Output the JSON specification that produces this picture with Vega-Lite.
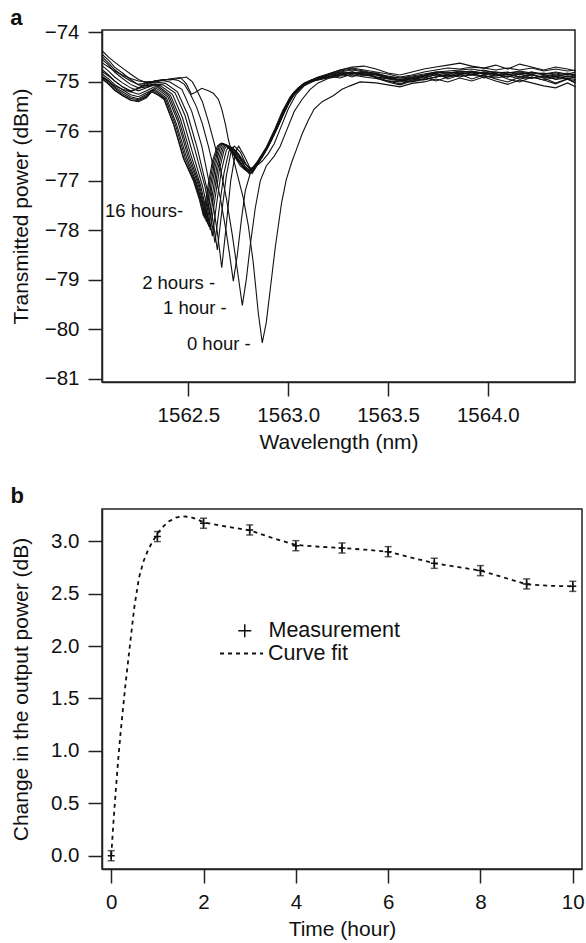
{
  "$schema": "https://vega.github.io/schema/vega-lite/v6.json",
  "background": "white",
  "padding": {"left": 9, "top": 6, "right": 0, "bottom": 2},
  "spacing": 30,
  "resolve": {"scale": {"shape": "independent", "strokeDash": "independent"}, "legend": {"shape": "independent", "strokeDash": "independent"}},
  "config": {
    "font": "Liberation Sans",
    "view": {"stroke": "#222", "strokeWidth": 1.5},
    "axis": {"grid": false, "domainColor": "#222", "domainWidth": 1.5, "tickColor": "#222", "tickWidth": 1.5, "tickSize": 14, "labelFontSize": 20.5, "labelColor": "#111", "labelPadding": 9, "labelFlush": false, "labelOverlap": false, "labelBound": false, "titleFontSize": 21, "titleFontWeight": "normal", "titleColor": "#111"},
    "title": {"fontSize": 22, "fontWeight": "bold", "anchor": "start", "frame": "bounds", "color": "#111"}
  },
  "datasets": {
    "spec": [
      {"h":0,"w":1562.07,"p":-74.62},{"h":0,"w":1562.1,"p":-74.7},{"h":0,"w":1562.13,"p":-74.78},{"h":0,"w":1562.17,"p":-74.86},{"h":0,"w":1562.21,"p":-74.93},{"h":0,"w":1562.25,"p":-74.98},{"h":0,"w":1562.29,"p":-75.0},{"h":0,"w":1562.33,"p":-74.99},{"h":0,"w":1562.37,"p":-74.97},{"h":0,"w":1562.42,"p":-74.93},{"h":0,"w":1562.46,"p":-74.91},{"h":0,"w":1562.49,"p":-75.04},{"h":0,"w":1562.515,"p":-75.25},{"h":0,"w":1562.54,"p":-75.2},{"h":0,"w":1562.567,"p":-75.13},{"h":0,"w":1562.6,"p":-75.18},{"h":0,"w":1562.625,"p":-75.23},{"h":0,"w":1562.65,"p":-75.35},{"h":0,"w":1562.667,"p":-75.55},{"h":0,"w":1562.685,"p":-75.85},{"h":0,"w":1562.7,"p":-76.16},{"h":0,"w":1562.725,"p":-76.55},{"h":0,"w":1562.75,"p":-76.95},{"h":0,"w":1562.775,"p":-77.35},{"h":0,"w":1562.8,"p":-77.9},{"h":0,"w":1562.825,"p":-78.66},{"h":0,"w":1562.85,"p":-79.67},{"h":0,"w":1562.87,"p":-80.28},{"h":0,"w":1562.89,"p":-79.87},{"h":0,"w":1562.91,"p":-79.2},{"h":0,"w":1562.935,"p":-78.35},{"h":0,"w":1562.967,"p":-77.44},{"h":0,"w":1562.99,"p":-76.98},{"h":0,"w":1563.017,"p":-76.63},{"h":0,"w":1563.04,"p":-76.38},{"h":0,"w":1563.07,"p":-76.05},{"h":0,"w":1563.1,"p":-75.78},{"h":0,"w":1563.13,"p":-75.55},{"h":0,"w":1563.17,"p":-75.4},{"h":0,"w":1563.225,"p":-75.28},{"h":0,"w":1563.27,"p":-75.15},{"h":0,"w":1563.31,"p":-75.08},{"h":0,"w":1563.36,"p":-75.0},{"h":0,"w":1563.44,"p":-75.02},{"h":0,"w":1563.5,"p":-75.06},{"h":0,"w":1563.56,"p":-75.1},{"h":0,"w":1563.62,"p":-75.03},{"h":0,"w":1563.68,"p":-75.0},{"h":0,"w":1563.74,"p":-74.94},{"h":0,"w":1563.8,"p":-75.0},{"h":0,"w":1563.86,"p":-74.92},{"h":0,"w":1563.92,"p":-74.98},{"h":0,"w":1563.98,"p":-74.9},{"h":0,"w":1564.04,"p":-74.98},{"h":0,"w":1564.1,"p":-75.05},{"h":0,"w":1564.16,"p":-74.96},{"h":0,"w":1564.22,"p":-75.02},{"h":0,"w":1564.28,"p":-75.08},{"h":0,"w":1564.34,"p":-75.12},{"h":0,"w":1564.4,"p":-75.02},{"h":0,"w":1564.44,"p":-75.1},

      {"h":1,"w":1562.07,"p":-74.9},{"h":1,"w":1562.1,"p":-74.98},{"h":1,"w":1562.13,"p":-75.08},{"h":1,"w":1562.17,"p":-75.15},{"h":1,"w":1562.21,"p":-75.2},{"h":1,"w":1562.25,"p":-75.12},{"h":1,"w":1562.29,"p":-75.03},{"h":1,"w":1562.33,"p":-74.98},{"h":1,"w":1562.37,"p":-74.95},{"h":1,"w":1562.41,"p":-74.96},{"h":1,"w":1562.45,"p":-74.93},{"h":1,"w":1562.49,"p":-74.9},{"h":1,"w":1562.52,"p":-75.0},{"h":1,"w":1562.54,"p":-75.15},{"h":1,"w":1562.57,"p":-75.4},{"h":1,"w":1562.6,"p":-75.8},{"h":1,"w":1562.63,"p":-76.25},{"h":1,"w":1562.66,"p":-76.75},{"h":1,"w":1562.69,"p":-77.35},{"h":1,"w":1562.72,"p":-78.1},{"h":1,"w":1562.745,"p":-78.8},{"h":1,"w":1562.77,"p":-79.52},{"h":1,"w":1562.79,"p":-79.0},{"h":1,"w":1562.81,"p":-78.3},{"h":1,"w":1562.835,"p":-77.55},{"h":1,"w":1562.86,"p":-77.0},{"h":1,"w":1562.89,"p":-76.7},{"h":1,"w":1562.93,"p":-76.5},{"h":1,"w":1562.96,"p":-76.3},{"h":1,"w":1562.99,"p":-76.0},{"h":1,"w":1563.03,"p":-75.6},{"h":1,"w":1563.07,"p":-75.35},{"h":1,"w":1563.11,"p":-75.15},{"h":1,"w":1563.15,"p":-75.02},{"h":1,"w":1563.2,"p":-74.93},{"h":1,"w":1563.26,"p":-74.88},{"h":1,"w":1563.32,"p":-74.86},{"h":1,"w":1563.38,"p":-74.9},{"h":1,"w":1563.44,"p":-74.93},{"h":1,"w":1563.5,"p":-74.98},{"h":1,"w":1563.56,"p":-75.0},{"h":1,"w":1563.62,"p":-74.93},{"h":1,"w":1563.68,"p":-74.95},{"h":1,"w":1563.74,"p":-74.9},{"h":1,"w":1563.8,"p":-74.85},{"h":1,"w":1563.86,"p":-74.88},{"h":1,"w":1563.92,"p":-74.86},{"h":1,"w":1563.98,"p":-74.9},{"h":1,"w":1564.04,"p":-74.88},{"h":1,"w":1564.1,"p":-74.84},{"h":1,"w":1564.16,"p":-74.9},{"h":1,"w":1564.22,"p":-74.93},{"h":1,"w":1564.28,"p":-74.87},{"h":1,"w":1564.34,"p":-74.95},{"h":1,"w":1564.4,"p":-74.92},{"h":1,"w":1564.44,"p":-74.95},

      {"h":2,"w":1562.07,"p":-74.8},{"h":2,"w":1562.1,"p":-74.88},{"h":2,"w":1562.13,"p":-74.98},{"h":2,"w":1562.17,"p":-75.1},{"h":2,"w":1562.21,"p":-75.18},{"h":2,"w":1562.25,"p":-75.14},{"h":2,"w":1562.29,"p":-75.06},{"h":2,"w":1562.33,"p":-75.0},{"h":2,"w":1562.37,"p":-74.96},{"h":2,"w":1562.41,"p":-74.94},{"h":2,"w":1562.45,"p":-74.97},{"h":2,"w":1562.48,"p":-75.05},{"h":2,"w":1562.51,"p":-75.25},{"h":2,"w":1562.54,"p":-75.5},{"h":2,"w":1562.57,"p":-75.85},{"h":2,"w":1562.6,"p":-76.3},{"h":2,"w":1562.63,"p":-76.8},{"h":2,"w":1562.66,"p":-77.35},{"h":2,"w":1562.69,"p":-78.05},{"h":2,"w":1562.71,"p":-78.6},{"h":2,"w":1562.725,"p":-79.03},{"h":2,"w":1562.745,"p":-78.5},{"h":2,"w":1562.765,"p":-77.8},{"h":2,"w":1562.785,"p":-77.2},{"h":2,"w":1562.81,"p":-76.85},{"h":2,"w":1562.84,"p":-76.7},{"h":2,"w":1562.87,"p":-76.6},{"h":2,"w":1562.9,"p":-76.45},{"h":2,"w":1562.93,"p":-76.25},{"h":2,"w":1562.96,"p":-75.95},{"h":2,"w":1563.0,"p":-75.55},{"h":2,"w":1563.04,"p":-75.25},{"h":2,"w":1563.08,"p":-75.08},{"h":2,"w":1563.13,"p":-74.98},{"h":2,"w":1563.2,"p":-74.9},{"h":2,"w":1563.26,"p":-74.85},{"h":2,"w":1563.32,"p":-74.8},{"h":2,"w":1563.38,"p":-74.84},{"h":2,"w":1563.44,"p":-74.9},{"h":2,"w":1563.5,"p":-74.93},{"h":2,"w":1563.56,"p":-74.96},{"h":2,"w":1563.62,"p":-74.99},{"h":2,"w":1563.68,"p":-74.93},{"h":2,"w":1563.74,"p":-74.85},{"h":2,"w":1563.8,"p":-74.82},{"h":2,"w":1563.86,"p":-74.8},{"h":2,"w":1563.92,"p":-74.78},{"h":2,"w":1563.98,"p":-74.85},{"h":2,"w":1564.04,"p":-74.83},{"h":2,"w":1564.1,"p":-74.9},{"h":2,"w":1564.16,"p":-74.84},{"h":2,"w":1564.22,"p":-74.8},{"h":2,"w":1564.28,"p":-74.86},{"h":2,"w":1564.34,"p":-74.89},{"h":2,"w":1564.4,"p":-74.85},{"h":2,"w":1564.44,"p":-74.88},

      {"h":3,"w":1562.07,"p":-74.5},{"h":3,"w":1562.1,"p":-74.62},{"h":3,"w":1562.13,"p":-74.75},{"h":3,"w":1562.17,"p":-74.88},{"h":3,"w":1562.21,"p":-74.98},{"h":3,"w":1562.25,"p":-75.05},{"h":3,"w":1562.29,"p":-75.02},{"h":3,"w":1562.33,"p":-74.98},{"h":3,"w":1562.37,"p":-74.97},{"h":3,"w":1562.407,"p":-75.0},{"h":3,"w":1562.467,"p":-75.15},{"h":3,"w":1562.517,"p":-75.6},{"h":3,"w":1562.567,"p":-76.3},{"h":3,"w":1562.617,"p":-77.3},{"h":3,"w":1562.647,"p":-78.1},{"h":3,"w":1562.667,"p":-78.76},{"h":3,"w":1562.687,"p":-78.0},{"h":3,"w":1562.712,"p":-77.0},{"h":3,"w":1562.737,"p":-76.4},{"h":3,"w":1562.752,"p":-76.3},{"h":3,"w":1562.78,"p":-76.5},{"h":3,"w":1562.81,"p":-76.75},{"h":3,"w":1562.84,"p":-76.7},{"h":3,"w":1562.87,"p":-76.5},{"h":3,"w":1562.9,"p":-76.3},{"h":3,"w":1562.94,"p":-75.98},{"h":3,"w":1562.98,"p":-75.62},{"h":3,"w":1563.02,"p":-75.3},{"h":3,"w":1563.06,"p":-75.12},{"h":3,"w":1563.12,"p":-74.97},{"h":3,"w":1563.2,"p":-74.86},{"h":3,"w":1563.26,"p":-74.8},{"h":3,"w":1563.32,"p":-74.76},{"h":3,"w":1563.38,"p":-74.8},{"h":3,"w":1563.44,"p":-74.82},{"h":3,"w":1563.5,"p":-74.9},{"h":3,"w":1563.56,"p":-74.92},{"h":3,"w":1563.62,"p":-74.9},{"h":3,"w":1563.68,"p":-74.86},{"h":3,"w":1563.74,"p":-74.8},{"h":3,"w":1563.8,"p":-74.78},{"h":3,"w":1563.86,"p":-74.76},{"h":3,"w":1563.92,"p":-74.74},{"h":3,"w":1563.98,"p":-74.78},{"h":3,"w":1564.04,"p":-74.8},{"h":3,"w":1564.1,"p":-74.82},{"h":3,"w":1564.16,"p":-74.78},{"h":3,"w":1564.22,"p":-74.82},{"h":3,"w":1564.28,"p":-74.85},{"h":3,"w":1564.34,"p":-74.82},{"h":3,"w":1564.4,"p":-74.86},{"h":3,"w":1564.44,"p":-74.84},

      {"h":4,"w":1562.07,"p":-74.38},{"h":4,"w":1562.1,"p":-74.5},{"h":4,"w":1562.13,"p":-74.6},{"h":4,"w":1562.17,"p":-74.72},{"h":4,"w":1562.21,"p":-74.84},{"h":4,"w":1562.25,"p":-74.95},{"h":4,"w":1562.29,"p":-75.02},{"h":4,"w":1562.33,"p":-75.0},{"h":4,"w":1562.385,"p":-75.03},{"h":4,"w":1562.445,"p":-75.2},{"h":4,"w":1562.495,"p":-75.65},{"h":4,"w":1562.545,"p":-76.35},{"h":4,"w":1562.595,"p":-77.2},{"h":4,"w":1562.625,"p":-77.85},{"h":4,"w":1562.645,"p":-78.4},{"h":4,"w":1562.665,"p":-77.7},{"h":4,"w":1562.69,"p":-76.9},{"h":4,"w":1562.715,"p":-76.38},{"h":4,"w":1562.73,"p":-76.3},{"h":4,"w":1562.76,"p":-76.42},{"h":4,"w":1562.79,"p":-76.68},{"h":4,"w":1562.82,"p":-76.8},{"h":4,"w":1562.85,"p":-76.62},{"h":4,"w":1562.88,"p":-76.45},{"h":4,"w":1562.92,"p":-76.15},{"h":4,"w":1562.96,"p":-75.8},{"h":4,"w":1563.0,"p":-75.45},{"h":4,"w":1563.04,"p":-75.2},{"h":4,"w":1563.09,"p":-75.02},{"h":4,"w":1563.15,"p":-74.9},{"h":4,"w":1563.2,"p":-74.84},{"h":4,"w":1563.26,"p":-74.76},{"h":4,"w":1563.32,"p":-74.7},{"h":4,"w":1563.38,"p":-74.68},{"h":4,"w":1563.44,"p":-74.74},{"h":4,"w":1563.5,"p":-74.82},{"h":4,"w":1563.56,"p":-74.86},{"h":4,"w":1563.62,"p":-74.8},{"h":4,"w":1563.68,"p":-74.74},{"h":4,"w":1563.74,"p":-74.7},{"h":4,"w":1563.8,"p":-74.66},{"h":4,"w":1563.86,"p":-74.62},{"h":4,"w":1563.92,"p":-74.68},{"h":4,"w":1563.98,"p":-74.72},{"h":4,"w":1564.04,"p":-74.66},{"h":4,"w":1564.1,"p":-74.74},{"h":4,"w":1564.16,"p":-74.64},{"h":4,"w":1564.22,"p":-74.7},{"h":4,"w":1564.28,"p":-74.76},{"h":4,"w":1564.34,"p":-74.7},{"h":4,"w":1564.4,"p":-74.74},{"h":4,"w":1564.44,"p":-74.78},

      {"h":5,"w":1562.07,"p":-74.45},{"h":5,"w":1562.1,"p":-74.56},{"h":5,"w":1562.13,"p":-74.7},{"h":5,"w":1562.17,"p":-74.82},{"h":5,"w":1562.21,"p":-74.95},{"h":5,"w":1562.25,"p":-75.06},{"h":5,"w":1562.29,"p":-75.08},{"h":5,"w":1562.33,"p":-75.04},{"h":5,"w":1562.373,"p":-75.06},{"h":5,"w":1562.433,"p":-75.22},{"h":5,"w":1562.483,"p":-75.68},{"h":5,"w":1562.533,"p":-76.38},{"h":5,"w":1562.583,"p":-77.12},{"h":5,"w":1562.613,"p":-77.75},{"h":5,"w":1562.633,"p":-78.25},{"h":5,"w":1562.653,"p":-77.6},{"h":5,"w":1562.678,"p":-76.85},{"h":5,"w":1562.703,"p":-76.4},{"h":5,"w":1562.718,"p":-76.32},{"h":5,"w":1562.75,"p":-76.45},{"h":5,"w":1562.78,"p":-76.62},{"h":5,"w":1562.81,"p":-76.78},{"h":5,"w":1562.84,"p":-76.65},{"h":5,"w":1562.87,"p":-76.52},{"h":5,"w":1562.91,"p":-76.22},{"h":5,"w":1562.95,"p":-75.88},{"h":5,"w":1562.99,"p":-75.5},{"h":5,"w":1563.03,"p":-75.25},{"h":5,"w":1563.08,"p":-75.05},{"h":5,"w":1563.14,"p":-74.95},{"h":5,"w":1563.2,"p":-74.9},{"h":5,"w":1563.26,"p":-74.86},{"h":5,"w":1563.32,"p":-74.83},{"h":5,"w":1563.38,"p":-74.88},{"h":5,"w":1563.44,"p":-74.84},{"h":5,"w":1563.5,"p":-74.92},{"h":5,"w":1563.56,"p":-74.95},{"h":5,"w":1563.62,"p":-74.92},{"h":5,"w":1563.68,"p":-74.9},{"h":5,"w":1563.74,"p":-74.86},{"h":5,"w":1563.8,"p":-74.9},{"h":5,"w":1563.86,"p":-74.85},{"h":5,"w":1563.92,"p":-74.8},{"h":5,"w":1563.98,"p":-74.83},{"h":5,"w":1564.04,"p":-74.88},{"h":5,"w":1564.1,"p":-74.85},{"h":5,"w":1564.16,"p":-74.9},{"h":5,"w":1564.22,"p":-74.86},{"h":5,"w":1564.28,"p":-74.92},{"h":5,"w":1564.34,"p":-74.88},{"h":5,"w":1564.4,"p":-74.93},{"h":5,"w":1564.44,"p":-74.9},

      {"h":6,"w":1562.07,"p":-74.55},{"h":6,"w":1562.1,"p":-74.66},{"h":6,"w":1562.13,"p":-74.8},{"h":6,"w":1562.17,"p":-74.93},{"h":6,"w":1562.21,"p":-75.05},{"h":6,"w":1562.25,"p":-75.12},{"h":6,"w":1562.29,"p":-75.1},{"h":6,"w":1562.33,"p":-75.05},{"h":6,"w":1562.36,"p":-75.08},{"h":6,"w":1562.42,"p":-75.25},{"h":6,"w":1562.47,"p":-75.72},{"h":6,"w":1562.52,"p":-76.42},{"h":6,"w":1562.57,"p":-77.1},{"h":6,"w":1562.6,"p":-77.65},{"h":6,"w":1562.62,"p":-78.12},{"h":6,"w":1562.64,"p":-77.5},{"h":6,"w":1562.665,"p":-76.8},{"h":6,"w":1562.69,"p":-76.38},{"h":6,"w":1562.705,"p":-76.3},{"h":6,"w":1562.74,"p":-76.4},{"h":6,"w":1562.77,"p":-76.6},{"h":6,"w":1562.8,"p":-76.72},{"h":6,"w":1562.83,"p":-76.78},{"h":6,"w":1562.86,"p":-76.58},{"h":6,"w":1562.9,"p":-76.3},{"h":6,"w":1562.94,"p":-75.95},{"h":6,"w":1562.98,"p":-75.58},{"h":6,"w":1563.02,"p":-75.28},{"h":6,"w":1563.06,"p":-75.1},{"h":6,"w":1563.12,"p":-74.96},{"h":6,"w":1563.2,"p":-74.86},{"h":6,"w":1563.26,"p":-74.8},{"h":6,"w":1563.32,"p":-74.84},{"h":6,"w":1563.38,"p":-74.8},{"h":6,"w":1563.44,"p":-74.86},{"h":6,"w":1563.5,"p":-74.9},{"h":6,"w":1563.56,"p":-74.97},{"h":6,"w":1563.62,"p":-74.94},{"h":6,"w":1563.68,"p":-74.88},{"h":6,"w":1563.74,"p":-74.84},{"h":6,"w":1563.8,"p":-74.88},{"h":6,"w":1563.86,"p":-74.82},{"h":6,"w":1563.92,"p":-74.86},{"h":6,"w":1563.98,"p":-74.8},{"h":6,"w":1564.04,"p":-74.84},{"h":6,"w":1564.1,"p":-74.9},{"h":6,"w":1564.16,"p":-74.84},{"h":6,"w":1564.22,"p":-74.92},{"h":6,"w":1564.28,"p":-74.88},{"h":6,"w":1564.34,"p":-74.94},{"h":6,"w":1564.4,"p":-74.88},{"h":6,"w":1564.44,"p":-74.92},

      {"h":7,"w":1562.07,"p":-74.68},{"h":7,"w":1562.1,"p":-74.78},{"h":7,"w":1562.13,"p":-74.9},{"h":7,"w":1562.17,"p":-75.02},{"h":7,"w":1562.21,"p":-75.12},{"h":7,"w":1562.25,"p":-75.18},{"h":7,"w":1562.29,"p":-75.12},{"h":7,"w":1562.33,"p":-75.06},{"h":7,"w":1562.35,"p":-75.09},{"h":7,"w":1562.41,"p":-75.27},{"h":7,"w":1562.46,"p":-75.75},{"h":7,"w":1562.51,"p":-76.45},{"h":7,"w":1562.56,"p":-77.08},{"h":7,"w":1562.59,"p":-77.6},{"h":7,"w":1562.61,"p":-78.0},{"h":7,"w":1562.63,"p":-77.45},{"h":7,"w":1562.655,"p":-76.78},{"h":7,"w":1562.68,"p":-76.36},{"h":7,"w":1562.695,"p":-76.28},{"h":7,"w":1562.73,"p":-76.38},{"h":7,"w":1562.76,"p":-76.55},{"h":7,"w":1562.79,"p":-76.75},{"h":7,"w":1562.82,"p":-76.82},{"h":7,"w":1562.85,"p":-76.6},{"h":7,"w":1562.89,"p":-76.35},{"h":7,"w":1562.93,"p":-76.02},{"h":7,"w":1562.97,"p":-75.65},{"h":7,"w":1563.01,"p":-75.32},{"h":7,"w":1563.05,"p":-75.12},{"h":7,"w":1563.11,"p":-74.98},{"h":7,"w":1563.2,"p":-74.9},{"h":7,"w":1563.26,"p":-74.84},{"h":7,"w":1563.32,"p":-74.8},{"h":7,"w":1563.38,"p":-74.86},{"h":7,"w":1563.44,"p":-74.9},{"h":7,"w":1563.5,"p":-74.94},{"h":7,"w":1563.56,"p":-74.98},{"h":7,"w":1563.62,"p":-75.0},{"h":7,"w":1563.68,"p":-74.95},{"h":7,"w":1563.74,"p":-74.9},{"h":7,"w":1563.8,"p":-74.86},{"h":7,"w":1563.86,"p":-74.9},{"h":7,"w":1563.92,"p":-74.84},{"h":7,"w":1563.98,"p":-74.88},{"h":7,"w":1564.04,"p":-74.92},{"h":7,"w":1564.1,"p":-74.88},{"h":7,"w":1564.16,"p":-74.94},{"h":7,"w":1564.22,"p":-74.9},{"h":7,"w":1564.28,"p":-74.96},{"h":7,"w":1564.34,"p":-74.9},{"h":7,"w":1564.4,"p":-74.95},{"h":7,"w":1564.44,"p":-74.97},

      {"h":8,"w":1562.07,"p":-74.76},{"h":8,"w":1562.1,"p":-74.86},{"h":8,"w":1562.13,"p":-74.98},{"h":8,"w":1562.17,"p":-75.1},{"h":8,"w":1562.21,"p":-75.2},{"h":8,"w":1562.25,"p":-75.25},{"h":8,"w":1562.29,"p":-75.18},{"h":8,"w":1562.33,"p":-75.1},{"h":8,"w":1562.343,"p":-75.1},{"h":8,"w":1562.403,"p":-75.28},{"h":8,"w":1562.453,"p":-75.78},{"h":8,"w":1562.503,"p":-76.48},{"h":8,"w":1562.553,"p":-77.06},{"h":8,"w":1562.583,"p":-77.55},{"h":8,"w":1562.603,"p":-77.93},{"h":8,"w":1562.623,"p":-77.4},{"h":8,"w":1562.648,"p":-76.75},{"h":8,"w":1562.673,"p":-76.35},{"h":8,"w":1562.688,"p":-76.27},{"h":8,"w":1562.72,"p":-76.36},{"h":8,"w":1562.75,"p":-76.52},{"h":8,"w":1562.78,"p":-76.7},{"h":8,"w":1562.81,"p":-76.8},{"h":8,"w":1562.84,"p":-76.68},{"h":8,"w":1562.87,"p":-76.5},{"h":8,"w":1562.91,"p":-76.2},{"h":8,"w":1562.95,"p":-75.85},{"h":8,"w":1562.99,"p":-75.48},{"h":8,"w":1563.03,"p":-75.2},{"h":8,"w":1563.08,"p":-75.02},{"h":8,"w":1563.14,"p":-74.92},{"h":8,"w":1563.2,"p":-74.86},{"h":8,"w":1563.26,"p":-74.78},{"h":8,"w":1563.32,"p":-74.74},{"h":8,"w":1563.38,"p":-74.78},{"h":8,"w":1563.44,"p":-74.84},{"h":8,"w":1563.5,"p":-74.88},{"h":8,"w":1563.56,"p":-74.92},{"h":8,"w":1563.62,"p":-74.88},{"h":8,"w":1563.68,"p":-74.84},{"h":8,"w":1563.74,"p":-74.8},{"h":8,"w":1563.8,"p":-74.82},{"h":8,"w":1563.86,"p":-74.78},{"h":8,"w":1563.92,"p":-74.8},{"h":8,"w":1563.98,"p":-74.76},{"h":8,"w":1564.04,"p":-74.82},{"h":8,"w":1564.1,"p":-74.8},{"h":8,"w":1564.16,"p":-74.86},{"h":8,"w":1564.22,"p":-74.8},{"h":8,"w":1564.28,"p":-74.84},{"h":8,"w":1564.34,"p":-74.8},{"h":8,"w":1564.4,"p":-74.84},{"h":8,"w":1564.44,"p":-74.8},

      {"h":9,"w":1562.07,"p":-74.85},{"h":9,"w":1562.1,"p":-74.94},{"h":9,"w":1562.13,"p":-75.05},{"h":9,"w":1562.17,"p":-75.16},{"h":9,"w":1562.21,"p":-75.26},{"h":9,"w":1562.25,"p":-75.3},{"h":9,"w":1562.29,"p":-75.22},{"h":9,"w":1562.337,"p":-75.12},{"h":9,"w":1562.397,"p":-75.3},{"h":9,"w":1562.447,"p":-75.8},{"h":9,"w":1562.497,"p":-76.5},{"h":9,"w":1562.547,"p":-77.05},{"h":9,"w":1562.577,"p":-77.5},{"h":9,"w":1562.597,"p":-77.88},{"h":9,"w":1562.617,"p":-77.35},{"h":9,"w":1562.642,"p":-76.72},{"h":9,"w":1562.667,"p":-76.33},{"h":9,"w":1562.682,"p":-76.26},{"h":9,"w":1562.71,"p":-76.33},{"h":9,"w":1562.74,"p":-76.5},{"h":9,"w":1562.77,"p":-76.68},{"h":9,"w":1562.8,"p":-76.82},{"h":9,"w":1562.83,"p":-76.72},{"h":9,"w":1562.86,"p":-76.55},{"h":9,"w":1562.9,"p":-76.28},{"h":9,"w":1562.94,"p":-75.92},{"h":9,"w":1562.98,"p":-75.55},{"h":9,"w":1563.02,"p":-75.25},{"h":9,"w":1563.07,"p":-75.05},{"h":9,"w":1563.13,"p":-74.94},{"h":9,"w":1563.2,"p":-74.88},{"h":9,"w":1563.26,"p":-74.92},{"h":9,"w":1563.32,"p":-74.84},{"h":9,"w":1563.38,"p":-74.8},{"h":9,"w":1563.44,"p":-74.9},{"h":9,"w":1563.5,"p":-74.98},{"h":9,"w":1563.56,"p":-75.04},{"h":9,"w":1563.62,"p":-74.96},{"h":9,"w":1563.68,"p":-74.9},{"h":9,"w":1563.74,"p":-74.98},{"h":9,"w":1563.8,"p":-74.9},{"h":9,"w":1563.86,"p":-74.84},{"h":9,"w":1563.92,"p":-74.94},{"h":9,"w":1563.98,"p":-74.86},{"h":9,"w":1564.04,"p":-74.94},{"h":9,"w":1564.1,"p":-75.0},{"h":9,"w":1564.16,"p":-74.9},{"h":9,"w":1564.22,"p":-74.84},{"h":9,"w":1564.28,"p":-74.92},{"h":9,"w":1564.34,"p":-75.02},{"h":9,"w":1564.4,"p":-74.94},{"h":9,"w":1564.44,"p":-75.02},

      {"h":10,"w":1562.07,"p":-74.9},{"h":10,"w":1562.1,"p":-74.98},{"h":10,"w":1562.13,"p":-75.1},{"h":10,"w":1562.17,"p":-75.2},{"h":10,"w":1562.21,"p":-75.3},{"h":10,"w":1562.25,"p":-75.34},{"h":10,"w":1562.29,"p":-75.25},{"h":10,"w":1562.33,"p":-75.14},{"h":10,"w":1562.39,"p":-75.32},{"h":10,"w":1562.44,"p":-75.85},{"h":10,"w":1562.49,"p":-76.52},{"h":10,"w":1562.54,"p":-77.04},{"h":10,"w":1562.57,"p":-77.45},{"h":10,"w":1562.59,"p":-77.83},{"h":10,"w":1562.61,"p":-77.3},{"h":10,"w":1562.635,"p":-76.7},{"h":10,"w":1562.66,"p":-76.32},{"h":10,"w":1562.675,"p":-76.25},{"h":10,"w":1562.7,"p":-76.3},{"h":10,"w":1562.73,"p":-76.46},{"h":10,"w":1562.76,"p":-76.64},{"h":10,"w":1562.79,"p":-76.78},{"h":10,"w":1562.82,"p":-76.85},{"h":10,"w":1562.85,"p":-76.62},{"h":10,"w":1562.89,"p":-76.38},{"h":10,"w":1562.93,"p":-76.05},{"h":10,"w":1562.97,"p":-75.68},{"h":10,"w":1563.01,"p":-75.35},{"h":10,"w":1563.05,"p":-75.15},{"h":10,"w":1563.11,"p":-74.99},{"h":10,"w":1563.2,"p":-74.92},{"h":10,"w":1563.26,"p":-74.86},{"h":10,"w":1563.32,"p":-74.82},{"h":10,"w":1563.38,"p":-74.86},{"h":10,"w":1563.44,"p":-74.82},{"h":10,"w":1563.5,"p":-74.9},{"h":10,"w":1563.56,"p":-74.96},{"h":10,"w":1563.62,"p":-74.93},{"h":10,"w":1563.68,"p":-74.96},{"h":10,"w":1563.74,"p":-74.9},{"h":10,"w":1563.8,"p":-74.84},{"h":10,"w":1563.86,"p":-74.8},{"h":10,"w":1563.92,"p":-74.84},{"h":10,"w":1563.98,"p":-74.8},{"h":10,"w":1564.04,"p":-74.86},{"h":10,"w":1564.1,"p":-74.82},{"h":10,"w":1564.16,"p":-74.8},{"h":10,"w":1564.22,"p":-74.84},{"h":10,"w":1564.28,"p":-74.82},{"h":10,"w":1564.34,"p":-74.86},{"h":10,"w":1564.4,"p":-74.82},{"h":10,"w":1564.44,"p":-74.86},

      {"h":12,"w":1562.07,"p":-74.92},{"h":12,"w":1562.1,"p":-75.0},{"h":12,"w":1562.13,"p":-75.12},{"h":12,"w":1562.17,"p":-75.24},{"h":12,"w":1562.21,"p":-75.33},{"h":12,"w":1562.25,"p":-75.36},{"h":12,"w":1562.29,"p":-75.28},{"h":12,"w":1562.325,"p":-75.16},{"h":12,"w":1562.385,"p":-75.34},{"h":12,"w":1562.435,"p":-75.87},{"h":12,"w":1562.485,"p":-76.55},{"h":12,"w":1562.535,"p":-77.03},{"h":12,"w":1562.565,"p":-77.42},{"h":12,"w":1562.585,"p":-77.78},{"h":12,"w":1562.605,"p":-77.25},{"h":12,"w":1562.63,"p":-76.66},{"h":12,"w":1562.655,"p":-76.3},{"h":12,"w":1562.67,"p":-76.24},{"h":12,"w":1562.7,"p":-76.32},{"h":12,"w":1562.73,"p":-76.5},{"h":12,"w":1562.76,"p":-76.7},{"h":12,"w":1562.79,"p":-76.8},{"h":12,"w":1562.82,"p":-76.76},{"h":12,"w":1562.85,"p":-76.58},{"h":12,"w":1562.89,"p":-76.32},{"h":12,"w":1562.93,"p":-75.98},{"h":12,"w":1562.97,"p":-75.6},{"h":12,"w":1563.01,"p":-75.3},{"h":12,"w":1563.05,"p":-75.12},{"h":12,"w":1563.11,"p":-74.97},{"h":12,"w":1563.2,"p":-74.84},{"h":12,"w":1563.26,"p":-74.76},{"h":12,"w":1563.32,"p":-74.72},{"h":12,"w":1563.38,"p":-74.76},{"h":12,"w":1563.44,"p":-74.8},{"h":12,"w":1563.5,"p":-74.84},{"h":12,"w":1563.56,"p":-74.9},{"h":12,"w":1563.62,"p":-74.86},{"h":12,"w":1563.68,"p":-74.8},{"h":12,"w":1563.74,"p":-74.76},{"h":12,"w":1563.8,"p":-74.72},{"h":12,"w":1563.86,"p":-74.74},{"h":12,"w":1563.92,"p":-74.7},{"h":12,"w":1563.98,"p":-74.72},{"h":12,"w":1564.04,"p":-74.76},{"h":12,"w":1564.1,"p":-74.72},{"h":12,"w":1564.16,"p":-74.76},{"h":12,"w":1564.22,"p":-74.72},{"h":12,"w":1564.28,"p":-74.78},{"h":12,"w":1564.34,"p":-74.74},{"h":12,"w":1564.4,"p":-74.78},{"h":12,"w":1564.44,"p":-74.76},

      {"h":14,"w":1562.07,"p":-74.94},{"h":14,"w":1562.1,"p":-75.03},{"h":14,"w":1562.13,"p":-75.15},{"h":14,"w":1562.17,"p":-75.27},{"h":14,"w":1562.21,"p":-75.36},{"h":14,"w":1562.25,"p":-75.38},{"h":14,"w":1562.29,"p":-75.3},{"h":14,"w":1562.32,"p":-75.18},{"h":14,"w":1562.38,"p":-75.36},{"h":14,"w":1562.43,"p":-75.9},{"h":14,"w":1562.48,"p":-76.58},{"h":14,"w":1562.53,"p":-77.02},{"h":14,"w":1562.56,"p":-77.4},{"h":14,"w":1562.58,"p":-77.75},{"h":14,"w":1562.6,"p":-77.2},{"h":14,"w":1562.625,"p":-76.62},{"h":14,"w":1562.65,"p":-76.3},{"h":14,"w":1562.665,"p":-76.24},{"h":14,"w":1562.69,"p":-76.28},{"h":14,"w":1562.72,"p":-76.42},{"h":14,"w":1562.75,"p":-76.6},{"h":14,"w":1562.78,"p":-76.76},{"h":14,"w":1562.81,"p":-76.84},{"h":14,"w":1562.84,"p":-76.7},{"h":14,"w":1562.87,"p":-76.5},{"h":14,"w":1562.91,"p":-76.22},{"h":14,"w":1562.95,"p":-75.88},{"h":14,"w":1562.99,"p":-75.5},{"h":14,"w":1563.03,"p":-75.22},{"h":14,"w":1563.08,"p":-75.04},{"h":14,"w":1563.14,"p":-74.93},{"h":14,"w":1563.2,"p":-74.9},{"h":14,"w":1563.26,"p":-74.82},{"h":14,"w":1563.32,"p":-74.9},{"h":14,"w":1563.38,"p":-74.82},{"h":14,"w":1563.44,"p":-74.92},{"h":14,"w":1563.5,"p":-75.0},{"h":14,"w":1563.56,"p":-75.06},{"h":14,"w":1563.62,"p":-74.98},{"h":14,"w":1563.68,"p":-74.88},{"h":14,"w":1563.74,"p":-74.82},{"h":14,"w":1563.8,"p":-74.94},{"h":14,"w":1563.86,"p":-74.86},{"h":14,"w":1563.92,"p":-74.8},{"h":14,"w":1563.98,"p":-74.92},{"h":14,"w":1564.04,"p":-74.84},{"h":14,"w":1564.1,"p":-74.94},{"h":14,"w":1564.16,"p":-75.0},{"h":14,"w":1564.22,"p":-74.9},{"h":14,"w":1564.28,"p":-74.96},{"h":14,"w":1564.34,"p":-75.04},{"h":14,"w":1564.4,"p":-74.94},{"h":14,"w":1564.44,"p":-75.02},

      {"h":16,"w":1562.07,"p":-74.95},{"h":16,"w":1562.1,"p":-75.05},{"h":16,"w":1562.13,"p":-75.17},{"h":16,"w":1562.17,"p":-75.28},{"h":16,"w":1562.21,"p":-75.37},{"h":16,"w":1562.25,"p":-75.4},{"h":16,"w":1562.29,"p":-75.32},{"h":16,"w":1562.315,"p":-75.2},{"h":16,"w":1562.375,"p":-75.32},{"h":16,"w":1562.425,"p":-75.85},{"h":16,"w":1562.475,"p":-76.55},{"h":16,"w":1562.525,"p":-77.0},{"h":16,"w":1562.555,"p":-77.38},{"h":16,"w":1562.575,"p":-77.71},{"h":16,"w":1562.595,"p":-77.18},{"h":16,"w":1562.62,"p":-76.6},{"h":16,"w":1562.645,"p":-76.3},{"h":16,"w":1562.66,"p":-76.25},{"h":16,"w":1562.685,"p":-76.28},{"h":16,"w":1562.715,"p":-76.4},{"h":16,"w":1562.745,"p":-76.58},{"h":16,"w":1562.775,"p":-76.72},{"h":16,"w":1562.805,"p":-76.86},{"h":16,"w":1562.835,"p":-76.74},{"h":16,"w":1562.865,"p":-76.55},{"h":16,"w":1562.9,"p":-76.3},{"h":16,"w":1562.94,"p":-75.95},{"h":16,"w":1562.98,"p":-75.58},{"h":16,"w":1563.02,"p":-75.28},{"h":16,"w":1563.06,"p":-75.1},{"h":16,"w":1563.12,"p":-74.96},{"h":16,"w":1563.2,"p":-74.87},{"h":16,"w":1563.26,"p":-74.83},{"h":16,"w":1563.32,"p":-74.8},{"h":16,"w":1563.38,"p":-74.84},{"h":16,"w":1563.44,"p":-74.86},{"h":16,"w":1563.5,"p":-74.93},{"h":16,"w":1563.56,"p":-74.95},{"h":16,"w":1563.62,"p":-74.91},{"h":16,"w":1563.68,"p":-74.87},{"h":16,"w":1563.74,"p":-74.82},{"h":16,"w":1563.8,"p":-74.8},{"h":16,"w":1563.86,"p":-74.84},{"h":16,"w":1563.92,"p":-74.8},{"h":16,"w":1563.98,"p":-74.84},{"h":16,"w":1564.04,"p":-74.8},{"h":16,"w":1564.1,"p":-74.86},{"h":16,"w":1564.16,"p":-74.82},{"h":16,"w":1564.22,"p":-74.86},{"h":16,"w":1564.28,"p":-74.9},{"h":16,"w":1564.34,"p":-74.86},{"h":16,"w":1564.4,"p":-74.9},{"h":16,"w":1564.44,"p":-74.88}
    ],
    "lab": [
      {"w":1562.474,"p":-77.61,"t":"16 hours-"},
      {"w":1562.634,"p":-79.06,"t":"2 hours -"},
      {"w":1562.692,"p":-79.57,"t":"1 hour -"},
      {"w":1562.812,"p":-80.31,"t":"0 hour -"}
    ],
    "fit": [
      {"t":0,"v":0,"s":"Curve fit"},{"t":0.05,"v":0.33,"s":"Curve fit"},{"t":0.1,"v":0.63,"s":"Curve fit"},{"t":0.15,"v":0.91,"s":"Curve fit"},{"t":0.2,"v":1.16,"s":"Curve fit"},{"t":0.3,"v":1.6,"s":"Curve fit"},{"t":0.4,"v":1.99,"s":"Curve fit"},{"t":0.5,"v":2.37,"s":"Curve fit"},{"t":0.6,"v":2.65,"s":"Curve fit"},{"t":0.7,"v":2.81,"s":"Curve fit"},{"t":0.8,"v":2.92,"s":"Curve fit"},{"t":0.9,"v":3.0,"s":"Curve fit"},{"t":1.0,"v":3.07,"s":"Curve fit"},{"t":1.1,"v":3.13,"s":"Curve fit"},{"t":1.25,"v":3.19,"s":"Curve fit"},{"t":1.4,"v":3.225,"s":"Curve fit"},{"t":1.55,"v":3.238,"s":"Curve fit"},{"t":1.7,"v":3.232,"s":"Curve fit"},{"t":1.85,"v":3.212,"s":"Curve fit"},{"t":2.0,"v":3.18,"s":"Curve fit"},{"t":2.5,"v":3.14,"s":"Curve fit"},{"t":3.0,"v":3.105,"s":"Curve fit"},{"t":3.5,"v":3.03,"s":"Curve fit"},{"t":4.0,"v":2.965,"s":"Curve fit"},{"t":4.5,"v":2.948,"s":"Curve fit"},{"t":5.0,"v":2.935,"s":"Curve fit"},{"t":5.5,"v":2.92,"s":"Curve fit"},{"t":6.0,"v":2.9,"s":"Curve fit"},{"t":6.5,"v":2.845,"s":"Curve fit"},{"t":7.0,"v":2.79,"s":"Curve fit"},{"t":7.5,"v":2.755,"s":"Curve fit"},{"t":8.0,"v":2.72,"s":"Curve fit"},{"t":8.5,"v":2.655,"s":"Curve fit"},{"t":9.0,"v":2.59,"s":"Curve fit"},{"t":9.5,"v":2.575,"s":"Curve fit"},{"t":10.0,"v":2.57,"s":"Curve fit"}
    ],
    "meas": [
      {"t":0,"v":0.0,"lo":-0.048,"hi":0.048,"s":"Measurement"},
      {"t":1,"v":3.045,"lo":2.997,"hi":3.093,"s":"Measurement"},
      {"t":2,"v":3.172,"lo":3.124,"hi":3.22,"s":"Measurement"},
      {"t":3,"v":3.108,"lo":3.06,"hi":3.156,"s":"Measurement"},
      {"t":4,"v":2.958,"lo":2.91,"hi":3.006,"s":"Measurement"},
      {"t":5,"v":2.936,"lo":2.888,"hi":2.984,"s":"Measurement"},
      {"t":6,"v":2.901,"lo":2.853,"hi":2.949,"s":"Measurement"},
      {"t":7,"v":2.79,"lo":2.742,"hi":2.838,"s":"Measurement"},
      {"t":8,"v":2.72,"lo":2.672,"hi":2.768,"s":"Measurement"},
      {"t":9,"v":2.593,"lo":2.545,"hi":2.641,"s":"Measurement"},
      {"t":10,"v":2.57,"lo":2.522,"hi":2.618,"s":"Measurement"}
    ]
  },
  "vconcat": [
    {
      "title": {"text": "a", "offset": -8},
      "width": 473,
      "height": 352,
      "layer": [
        {
          "data": {"name": "spec"},
          "mark": {"type": "line", "color": "#111", "strokeWidth": 1.1},
          "encoding": {
            "x": {"field": "w", "type": "quantitative", "scale": {"domain": [1562.067, 1564.437], "nice": false, "zero": false}, "axis": {"values": [1562.5, 1563, 1563.5, 1564], "format": ".1f", "title": "Wavelength (nm)", "titlePadding": 6}},
            "y": {"field": "p", "type": "quantitative", "scale": {"domain": [-81.07, -73.95], "nice": false, "zero": false}, "axis": {"values": [-81, -80, -79, -78, -77, -76, -75, -74], "title": "Transmitted power (dBm)", "titlePadding": 13}},
            "detail": {"field": "h", "type": "nominal"}
          }
        },
        {
          "data": {"name": "lab"},
          "mark": {"type": "text", "align": "right", "baseline": "middle", "fontSize": 18.5, "color": "#111"},
          "encoding": {
            "x": {"field": "w", "type": "quantitative"},
            "y": {"field": "p", "type": "quantitative"},
            "text": {"field": "t", "type": "nominal"}
          }
        }
      ]
    },
    {
      "title": {"text": "b", "offset": 1},
      "width": 480,
      "height": 360,
      "layer": [
        {
          "data": {"name": "fit"},
          "mark": {"type": "line", "color": "#111", "strokeWidth": 1.8},
          "encoding": {
            "x": {"field": "t", "type": "quantitative", "scale": {"domain": [-0.2, 10.2], "nice": false, "zero": false}, "axis": {"values": [0, 2, 4, 6, 8, 10], "title": "Time (hour)", "titlePadding": 6}},
            "y": {"field": "v", "type": "quantitative", "scale": {"domain": [-0.127, 3.308], "nice": false, "zero": false}, "axis": {"values": [0, 0.5, 1, 1.5, 2, 2.5, 3], "format": ".1f", "title": "Change in the output power (dB)", "titlePadding": 19}},
            "strokeDash": {"field": "s", "type": "nominal", "scale": {"domain": ["Curve fit"], "range": [[4, 4]]}, "legend": {"orient": "none", "legendX": 117, "legendY": 122, "title": null, "symbolType": "stroke", "symbolSize": 1849, "symbolStrokeWidth": 1.8, "symbolStrokeColor": "#111", "labelFontSize": 21.5, "labelColor": "#111", "labelOffset": 4, "padding": 0}}
          }
        },
        {
          "data": {"name": "meas"},
          "mark": {"type": "rule", "color": "#111", "strokeWidth": 1.5},
          "encoding": {
            "x": {"field": "t", "type": "quantitative"},
            "y": {"field": "lo", "type": "quantitative"},
            "y2": {"field": "hi"}
          }
        },
        {
          "data": {"name": "meas"},
          "mark": {"type": "tick", "orient": "horizontal", "color": "#111", "size": 7, "thickness": 1.5},
          "encoding": {
            "x": {"field": "t", "type": "quantitative"},
            "y": {"field": "lo", "type": "quantitative"}
          }
        },
        {
          "data": {"name": "meas"},
          "mark": {"type": "tick", "orient": "horizontal", "color": "#111", "size": 7, "thickness": 1.5},
          "encoding": {
            "x": {"field": "t", "type": "quantitative"},
            "y": {"field": "hi", "type": "quantitative"}
          }
        },
        {
          "data": {"name": "meas"},
          "mark": {"type": "point", "filled": false, "color": "#111", "strokeWidth": 1.5, "size": 49, "opacity": 1},
          "encoding": {
            "x": {"field": "t", "type": "quantitative"},
            "y": {"field": "v", "type": "quantitative"},
            "shape": {"field": "s", "type": "nominal", "scale": {"domain": ["Measurement"], "range": ["M-1,0H1M0,-1V1"]}, "legend": {"orient": "none", "legendX": 132, "legendY": 111, "title": null, "symbolSize": 170, "symbolStrokeWidth": 1.5, "symbolStrokeColor": "#111", "symbolFillColor": "transparent", "labelFontSize": 21.5, "labelColor": "#111", "labelOffset": 13, "padding": 0}}
          }
        }
      ]
    }
  ]
}
